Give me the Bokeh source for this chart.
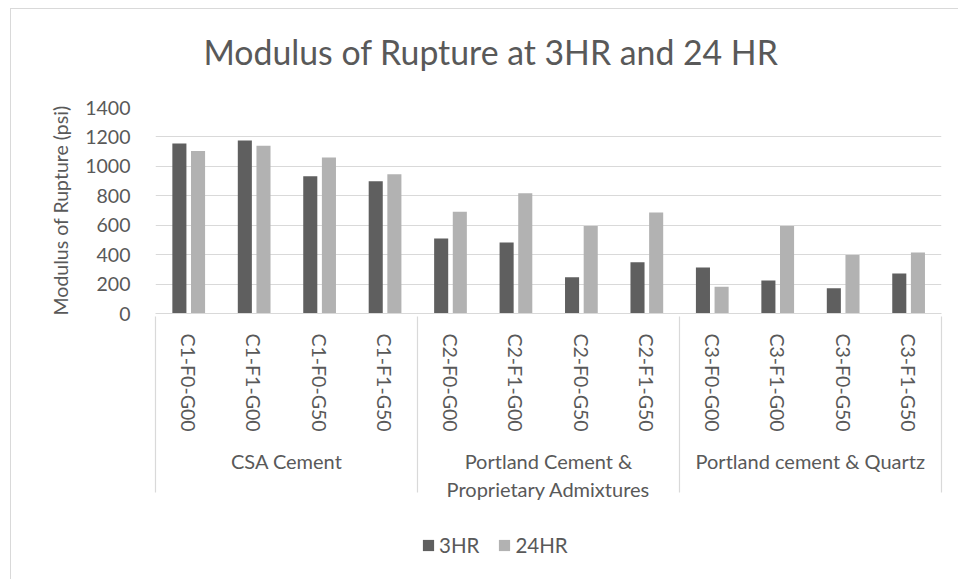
from bokeh.plotting import figure
from bokeh.layouts import column
from bokeh.models import FactorRange, ColumnDataSource, Legend, LegendItem, FixedTicker, Range1d
from bokeh.transform import dodge
from bokeh.embed import file_html
from bokeh.resources import INLINE

# ---- data ----
groups = ["CSA Cement", "Portland Cement &\nProprietary Admixtures", "Portland cement & Quartz"]
samples = [
    ["C1-F0-G00", "C1-F1-G00", "C1-F0-G50", "C1-F1-G50"],
    ["C2-F0-G00", "C2-F1-G00", "C2-F0-G50", "C2-F1-G50"],
    ["C3-F0-G00", "C3-F1-G00", "C3-F0-G50", "C3-F1-G50"],
]
mor_3hr = [1156, 1176, 932, 899, 510, 483, 246, 348, 312, 224, 172, 271]
mor_24hr = [1104, 1140, 1061, 946, 691, 817, 594, 686, 181, 594, 397, 415]
y_ticks = [0, 200, 400, 600, 800, 1000, 1200, 1400]
series_names = ["3HR", "24HR"]
title_text = "Modulus of Rupture at 3HR and 24 HR"
y_label = "Modulus of Rupture (psi)"

factors = [(g, s) for g, ss in zip(groups, samples) for s in ss]
# hidden edge slots (just outside the visible range) so the category axis
# draws its separator lines at both ends, as in the reference
edge_left, edge_right = (" ", " "), ("  ", " ")
range_factors = [edge_left] + factors + [edge_right]

FONT = "Lato"
TXT = "#595959"
GRID = "#d9d9d9"
DARK = "#5f5f5f"
LIGHT = "#b2b2b2"
W = 947

# ---- title strip (frames of the column are aligned, so offsets are from the plot-area left) ----
p0 = figure(width=W, height=80, title=title_text, x_range=Range1d(0, 1), y_range=Range1d(0, 1),
            output_backend="svg", toolbar_location=None,
            x_axis_location=None, y_axis_location=None,
            min_border_left=0, min_border_right=0, min_border_top=67, min_border_bottom=0)
p0.grid.visible = False
p0.outline_line_color = None
p0.border_fill_color = "white"
p0.title.text_font = FONT
p0.title.text_font_size = "33.8px"
p0.title.text_font_style = "normal"
p0.title.text_color = TXT
p0.title.align = "left"
p0.title.offset = 48
p0.title.standoff = 10

# ---- main chart ----
src = ColumnDataSource(dict(x=factors, hr3=mor_3hr, hr24=mor_24hr))

xr = FactorRange(*range_factors, group_padding=0, factor_padding=0,
                 range_padding=-0.995, range_padding_units="absolute")

p = figure(
    width=W, height=424, title=None,
    x_range=xr,
    y_range=(y_ticks[0], y_ticks[-1]),
    output_backend="svg", toolbar_location=None,
    min_border_left=144, min_border_right=17, min_border_top=18, min_border_bottom=200,
)
p.outline_line_color = None
p.background_fill_color = "white"
p.border_fill_color = "white"

r1 = p.vbar(x=dodge("x", -0.14, range=p.x_range), top="hr3", width=0.215, source=src,
            fill_color=DARK, line_color=None)
r2 = p.vbar(x=dodge("x", 0.145, range=p.x_range), top="hr24", width=0.215, source=src,
            fill_color=LIGHT, line_color=None)

# y axis
p.yaxis.ticker = FixedTicker(ticks=y_ticks)
p.yaxis.axis_line_color = None
p.yaxis.major_tick_line_color = None
p.yaxis.minor_tick_line_color = None
p.yaxis.major_label_text_font = FONT
p.yaxis.major_label_text_font_size = "19.5px"
p.yaxis.major_label_text_color = TXT
p.yaxis.major_label_standoff = 19
p.yaxis.axis_label = y_label
p.yaxis.axis_label_text_font = FONT
p.yaxis.axis_label_text_font_size = "19.5px"
p.yaxis.axis_label_text_font_style = "normal"
p.yaxis.axis_label_text_color = TXT
p.yaxis.axis_label_standoff = 10

p.ygrid.grid_line_color = GRID
p.ygrid.grid_line_width = 1.2
p.xgrid.visible = False

# x axis
xa = p.xaxis[0]
xa.axis_line_color = GRID
xa.axis_line_width = 1.2
xa.major_tick_line_color = None
xa.minor_tick_line_color = None
xa.major_label_orientation = "vertical"
xa.major_label_text_font = FONT
xa.major_label_text_font_size = "19.5px"
xa.major_label_text_color = TXT
xa.major_label_standoff = 14
xa.group_text_font = FONT
xa.group_text_font_size = "20px"
xa.group_text_font_style = "normal"
xa.group_text_color = TXT
xa.group_label_orientation = "horizontal"
xa.separator_line_color = GRID
xa.separator_line_width = 1.2

# ---- legend strip ----
p2 = figure(width=W, height=66, x_range=Range1d(0, 1), y_range=Range1d(0, 1),
            output_backend="svg", toolbar_location=None,
            x_axis_location=None, y_axis_location=None,
            min_border_left=0, min_border_right=0, min_border_top=0, min_border_bottom=0)
p2.grid.visible = False
p2.outline_line_color = None
p2.background_fill_color = "white"
p2.border_fill_color = "white"
# zero-height key glyphs: they only supply the legend swatches
k1 = p2.vbar(x=[0.5], top=[0], bottom=[0], width=0.01, fill_color=DARK, line_color=None)
k2 = p2.vbar(x=[0.5], top=[0], bottom=[0], width=0.01, fill_color=LIGHT, line_color=None)

legend = Legend(
    items=[LegendItem(label=series_names[0], renderers=[k1]),
           LegendItem(label=series_names[1], renderers=[k2])],
    orientation="horizontal",
    location=(266, 22),
    border_line_color=None,
    background_fill_alpha=0,
    padding=0, margin=0,
    glyph_width=14, glyph_height=14,
    label_standoff=4, spacing=18,
    label_text_font=FONT, label_text_font_size="20.5px", label_text_color=TXT,
)
p2.add_layout(legend, "center")

layout = column(p0, p, p2, spacing=0,
                styles={"margin-left": "10px", "margin-top": "8px",
                        "border-top": "1px solid #d9d9d9", "border-left": "1px solid #d9d9d9"})

open("out.html", "w").write(file_html(layout, INLINE))
